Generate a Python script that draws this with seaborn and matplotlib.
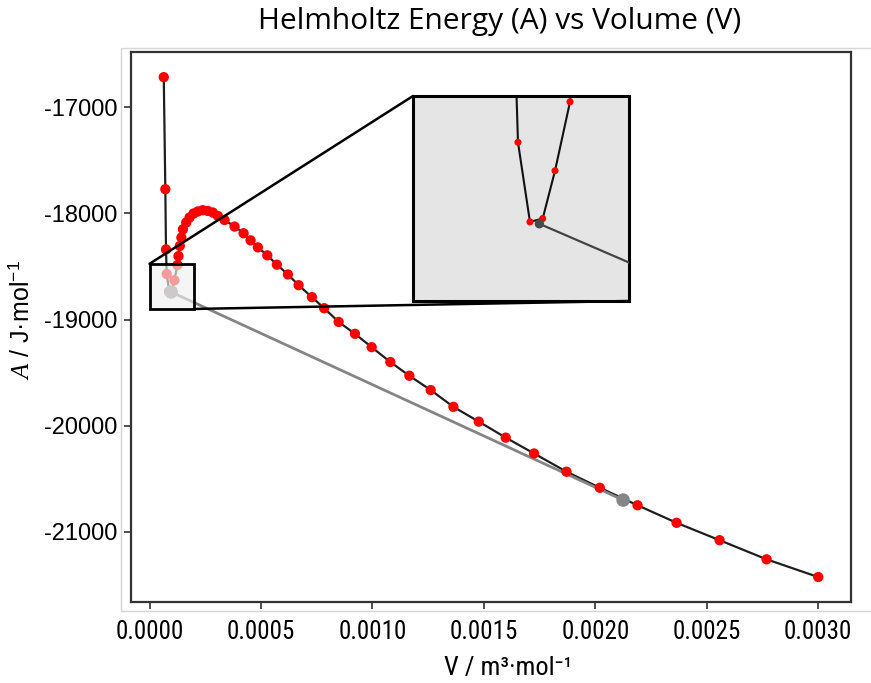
import matplotlib
matplotlib.use("Agg")
import matplotlib.pyplot as plt
import seaborn as sns
from matplotlib.patches import Rectangle, ConnectionPatch

# ---------------- data ----------------
volume = [6.40e-5, 7.10e-5, 7.40e-5, 7.72e-5, 8.83e-5, 1.001e-4, 1.115e-4, 1.254e-4,
          1.300e-4, 1.360e-4, 1.430e-4, 1.500e-4, 1.647e-4, 1.796e-4, 1.975e-4, 2.168e-4,
          2.393e-4, 2.617e-4, 2.842e-4, 3.066e-4, 3.367e-4, 3.816e-4, 4.220e-4, 4.534e-4,
          4.862e-4, 5.284e-4, 5.715e-4, 6.209e-4, 6.689e-4, 7.286e-4, 7.834e-4, 8.484e-4,
          9.216e-4, 9.966e-4, 1.0805e-3, 1.1658e-3, 1.2614e-3, 1.3633e-3, 1.4769e-3,
          1.5981e-3, 1.7251e-3, 1.8706e-3, 2.0200e-3, 2.1893e-3, 2.3644e-3, 2.5574e-3,
          2.7683e-3, 3.0000e-3]
helmholtz = [-16717, -17772, -18339, -18571, -18736, -18729, -18630, -18487,
             -18402, -18307, -18228, -18150, -18086, -18039, -18001, -17982,
             -17970, -17977, -17992, -18024, -18062, -18124, -18187, -18254,
             -18320, -18395, -18483, -18575, -18676, -18789, -18893, -19022,
             -19134, -19260, -19400, -19529, -19664, -19822, -19961,
             -20112, -20261, -20433, -20584, -20749, -20914, -21078,
             -21258, -21425]
tangent_volume = [9.70e-5, 2.1247e-3]
tangent_helmholtz = [-18740, -20700]

x_ticks = [0.0, 0.0005, 0.0010, 0.0015, 0.0020, 0.0025, 0.0030]
y_ticks = [-21000, -20000, -19000, -18000, -17000]

title = "Helmholtz Energy (A) vs Volume (V)"
xlabel = "V / m³·mol⁻¹"
ylabel = "$A$ / J·mol$^{\\mathregular{-1}}$"

# ---------------- style ----------------
sns.set_theme(style="white")
plt.rcParams["axes.unicode_minus"] = False
plt.rcParams["mathtext.fontset"] = "custom"
plt.rcParams["mathtext.it"] = "Liberation Serif:italic"
plt.rcParams["mathtext.rm"] = "Liberation Sans"
plt.rcParams["font.family"] = ["Liberation Sans", "DejaVu Sans"]

W, H = 871, 683
fig = plt.figure(figsize=(W / 100, H / 100), dpi=100)
fig.patch.set_facecolor("white")

# light outer frame
fig.add_artist(Rectangle((120.7 / W, (H - 611) / H), 1.2, (611 - 48.3) / H,
                         transform=fig.transFigure, fill=False,
                         edgecolor="#d6d6d6", lw=1.0, clip_on=False))

ax = fig.add_axes([131 / W, (H - 602) / H, 720 / W, 550 / H])
ax.set_facecolor("white")

sns.lineplot(x=volume, y=helmholtz, sort=False, estimator=None, color="#1e1e1e",
             lw=1.6, ax=ax, zorder=2)
sns.lineplot(x=tangent_volume, y=tangent_helmholtz, sort=False, estimator=None,
             color="#858585", lw=2.0, ax=ax, zorder=3)
sns.scatterplot(x=volume, y=helmholtz, color="#ff0000", s=55, edgecolor="none",
                linewidth=0, ax=ax, zorder=4)
sns.scatterplot(x=tangent_volume, y=tangent_helmholtz, color="#858585", s=95,
                edgecolor="none", linewidth=0, ax=ax, zorder=4)

ax.set_xlim(-0.000083, 0.003147)
ax.set_ylim(-21660, -16480)
ax.set_xticks(x_ticks)
ax.set_xticklabels([f"{v:.4f}" for v in x_ticks])
ax.set_yticks(y_ticks)
ax.set_yticklabels([f"{v:d}" for v in y_ticks])
ax.set_xlabel("")
ax.set_ylabel("")
for s in ax.spines.values():
    s.set_color("#333333")
    s.set_linewidth(1.6)
ax.tick_params(axis="both", which="major", direction="out", length=5,
               width=1.2, color="#333333", bottom=True, left=True)
ax.tick_params(axis="y", pad=5)
ax.tick_params(axis="x", pad=8)
for lbl in ax.get_yticklabels():
    lbl.set_fontfamily(["Liberation Sans", "DejaVu Sans"])
    lbl.set_fontsize(17)
    lbl.set_color("black")
for lbl in ax.get_xticklabels():
    lbl.set_fontfamily(["Liberation Sans Narrow", "Roboto Condensed", "Liberation Sans"])
    lbl.set_fontsize(18)
    lbl.set_color("black")

# ---------------- inset ----------------
axins = ax.inset_axes([(413 - 131) / 720, (602 - 301) / 550, 216 / 720, 205 / 550])
axins.set_facecolor("#e5e5e5")
sns.lineplot(x=volume, y=helmholtz, sort=False, estimator=None, color="#111111",
             lw=1.5, ax=axins, zorder=2)
sns.lineplot(x=tangent_volume, y=tangent_helmholtz, sort=False, estimator=None,
             color="#444444", lw=1.6, ax=axins, zorder=3)
sns.scatterplot(x=volume, y=helmholtz, color="#ff0000", s=26, edgecolor="none",
                linewidth=0, ax=axins, zorder=4)
sns.scatterplot(x=tangent_volume, y=tangent_helmholtz, color="#4a4a4a", s=45,
                edgecolor="none", linewidth=0, ax=axins, zorder=5)
axins.set_xlim(-0.00002, 0.00018)
axins.set_ylim(-18900, -18475)
axins.set_xticks([])
axins.set_yticks([])
axins.set_xlabel("")
axins.set_ylabel("")
for s in axins.spines.values():
    s.set_color("black")
    s.set_linewidth(2.2)

# zoom indicator box and connectors
box_x0, box_x1, box_y0, box_y1 = 0.0, 0.0002, -18900, -18475
ax.add_patch(Rectangle((box_x0, box_y0), box_x1 - box_x0, box_y1 - box_y0,
                       facecolor=(0.94, 0.94, 0.94, 0.65), edgecolor="black",
                       lw=2.0, zorder=6))
for xyA, xyB in [((box_x0, box_y1), (0, 1)), ((box_x1, box_y0), (1, 0))]:
    con = ConnectionPatch(xyA=xyA, coordsA=ax.transData, xyB=xyB,
                          coordsB=axins.transAxes, color="black", lw=1.8, zorder=7)
    fig.add_artist(con)

# ---------------- texts ----------------
fig.text(500 / W, 1 - 21 / H, title, ha="center", va="center", fontsize=21.5,
         family=["Open Sans", "DejaVu Sans"], color="black")
fig.text(508 / W, 1 - 668 / H, xlabel, ha="center", va="center", fontsize=19,
         family=["Liberation Sans Narrow", "Roboto Condensed", "Liberation Sans", "DejaVu Sans"],
         color="black")
fig.text(22 / W, 1 - 320 / H, ylabel, ha="center", va="center", rotation=90,
         fontsize=18, family=["Liberation Sans", "DejaVu Sans"], color="black")

fig.savefig("out.png", dpi=100)
